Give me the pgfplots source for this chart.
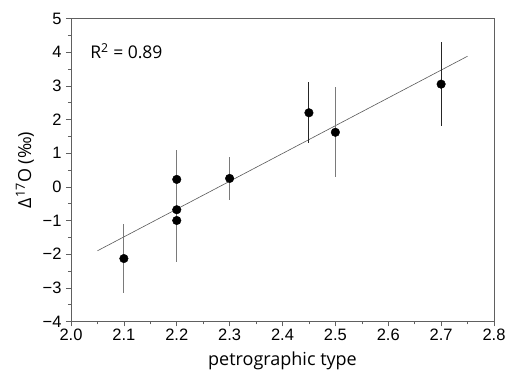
\documentclass[border=0pt]{standalone}
\usepackage{pgfplots}
\pgfplotsset{compat=1.18}
\usepackage{fontspec}
\setmainfont{Liberation Sans}
\newfontfamily\labfont{Open Sans}
\definecolor{ebgray}{HTML}{7A7A7A}
\definecolor{framegray}{HTML}{606060}
\begin{document}
\begin{tikzpicture}
\begin{axis}[
  scale only axis,
  width=423pt, height=303pt,
  xmin=2.0, xmax=2.8, ymin=-4, ymax=5,
  xtick={2.0,2.1,...,2.8},
  xticklabels={2.0,2.1,2.2,2.3,2.4,2.5,2.6,2.7,2.8},
  ytick={-4,-3,...,5},
  yticklabels={−4,−3,−2,−1,0,1,2,3,4,5},
  minor x tick num=1, minor y tick num=1,
  tick align=outside,
  xtick pos=bottom, ytick pos=left,
  major tick length=5pt, minor tick length=3pt,
  tick style={framegray, line width=0.6pt},
  axis line style={framegray, line width=0.8pt},
  /pgf/number format/assume math mode=true,
  ticklabel style={font=\fontsize{16.5}{19}\selectfont},
  xticklabel style={yshift=1pt},
  yticklabel style={xshift=-1pt},
  label style={font=\labfont\fontsize{18}{20}\selectfont},
  xlabel={petrographic type},
  ylabel={Δ\textsuperscript{17}O (‰)},
  xlabel style={at={(axis description cs:0.5,0)}, anchor=base, yshift=-44.5pt},
  ylabel style={at={(axis description cs:-0.109,0.5)}, anchor=center, rotate=0},
  clip=false,
]
% regression line
\addplot[color=black!65, line width=0.6pt] coordinates {(2.05,-1.90) (2.75,3.88)};
% gray error bars
\addplot[draw=none, mark=none, error bars/.cd, y dir=both, y explicit,
  error mark=none, error bar style={ebgray, line width=1pt}]
  coordinates {
  (2.1,-2.13) += (0,1.03) -= (0,1.02)
  (2.2,0.22) += (0,0.86) -= (0,0.86)
  (2.2,-0.68) += (0,0.5) -= (0,0.5)
  (2.2,-1.0) += (0,0.5) -= (0,1.22)
  (2.3,0.25) += (0,0.63) -= (0,0.64)
  (2.5,1.62) += (0,1.36) -= (0,1.34)
  };
% dark error bars
\addplot[draw=none, mark=none, error bars/.cd, y dir=both, y explicit,
  error mark=none, error bar style={black!85, line width=1pt}]
  coordinates {
  (2.45,2.20) += (0,0.92) -= (0,0.90)
  (2.7,3.05) += (0,1.25) -= (0,1.25)
  };
% points
\addplot[only marks, mark=*, mark size=4.3pt, color=black] coordinates {
  (2.1,-2.13) (2.2,0.22) (2.2,-0.68) (2.2,-1.0) (2.3,0.25)
  (2.45,2.20) (2.5,1.62) (2.7,3.05)
};
\node[anchor=west, font=\labfont\fontsize{17.5}{20}\selectfont] at (axis cs:2.03,4.03) {R\textsuperscript{2} = 0.89};
\end{axis}
\pgfresetboundingbox
\path (current axis.south west)+(-71pt,-48.3pt) coordinate (bl);
\path (current axis.north east)+(20pt,18.5pt) coordinate (tr);
\path[use as bounding box] (bl) rectangle (tr);
\end{tikzpicture}
\end{document}
